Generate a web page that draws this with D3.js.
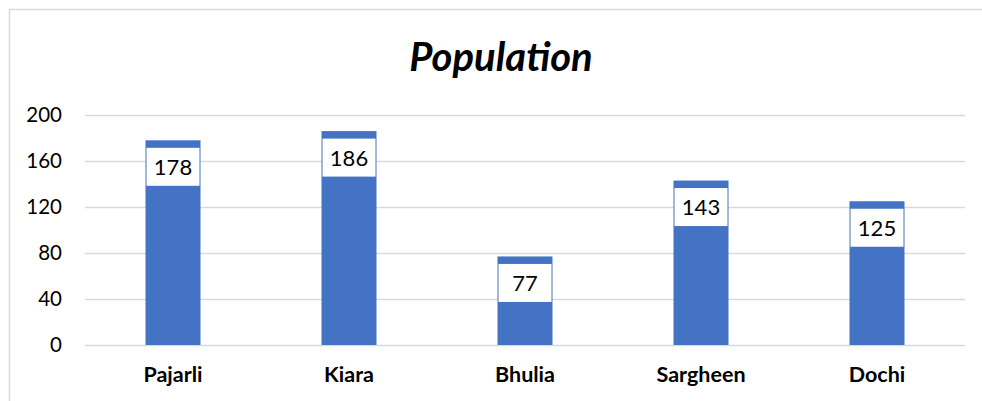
<!DOCTYPE html>
<html>
<head>
<meta charset="utf-8">
<script src="https://cdn.jsdelivr.net/npm/d3@7"></script>
<style>
  body { margin: 0; background: #fff; }
  svg { display: block; font-family: Lato, "Open Sans", sans-serif; }
</style>
</head>
<body>
<div id="container"></div>
<script>
"use strict";

const width = 982;
const height = 401;

// chart data
const villages = ["Pajarli", "Kiara", "Bhulia", "Sargheen", "Dochi"];
const population = [178, 186, 77, 143, 125];
const yTicks = [0, 40, 80, 120, 160, 200];
const title = "Population";

const margin = { left: 85, right: 17, top: 115, bottom: 56 };

const svg = d3.select("#container").append("svg")
    .attr("width", width)
    .attr("height", height);

// chart frame (only top and left edges are visible)
svg.append("rect")
    .attr("x", 9.5).attr("y", 9.5)
    .attr("width", width + 20).attr("height", height + 20)
    .attr("fill", "none")
    .attr("stroke", "#d9d9d9")
    .attr("stroke-width", 1.5);

const x = d3.scaleBand()
    .domain(villages)
    .range([margin.left, width - margin.right])
    .paddingInner(0.6875)
    .paddingOuter(0.34375);

const y = d3.scaleLinear()
    .domain([0, 200])
    .range([height - margin.bottom, margin.top]);

// gridlines
svg.append("g")
    .selectAll("line")
    .data(yTicks)
    .join("line")
    .attr("x1", margin.left)
    .attr("x2", width - margin.right)
    .attr("y1", d => Math.round(y(d)) + 0.5)
    .attr("y2", d => Math.round(y(d)) + 0.5)
    .attr("stroke", "#d9d9d9")
    .attr("stroke-width", 1.5);

// y axis labels
const yAxis = svg.append("g")
    .attr("transform", `translate(${margin.left - 23},0)`)
    .call(d3.axisLeft(y).tickValues(yTicks).tickSize(0).tickPadding(0));
yAxis.select(".domain").remove();
yAxis.selectAll("text")
    .attr("font-size", 20.5)
    .attr("font-family", "Lato, sans-serif")
    .attr("fill", "#000");

// x axis labels
const xAxis = svg.append("g")
    .attr("transform", `translate(0,${height - margin.bottom})`)
    .call(d3.axisBottom(x).tickSize(0).tickPadding(22));
xAxis.select(".domain").remove();
xAxis.selectAll("text")
    .attr("font-size", 21.5)
    .attr("font-weight", "bold")
    .attr("font-family", "Lato, sans-serif")
    .attr("fill", "#000");

// bars
const data = villages.map((v, i) => ({ name: v, value: population[i] }));

svg.append("g")
    .selectAll("rect")
    .data(data)
    .join("rect")
    .attr("x", d => x(d.name))
    .attr("y", d => y(d.value))
    .attr("width", x.bandwidth())
    .attr("height", d => y(0) - y(d.value))
    .attr("fill", "#4472c4");

// data labels in white boxes
const labels = svg.append("g")
    .selectAll("g")
    .data(data)
    .join("g")
    .attr("transform", d => `translate(${x(d.name) + x.bandwidth() / 2},${y(d.value) + 7.5})`);

labels.append("rect")
    .attr("x", -x.bandwidth() / 2 + 1)
    .attr("width", x.bandwidth() - 2)
    .attr("height", 38)
    .attr("fill", "#fff");

labels.append("text")
    .attr("y", 19.5)
    .attr("dy", "0.36em")
    .attr("text-anchor", "middle")
    .attr("font-size", 22)
    .attr("fill", "#000")
    .text(d => d.value);

// title
svg.append("text")
    .attr("x", 501)
    .attr("y", 71)
    .attr("text-anchor", "middle")
    .attr("font-size", 40)
    .attr("font-weight", "bold")
    .attr("font-style", "italic")
    .attr("fill", "#000")
    .text(title);
</script>
</body>
</html>
